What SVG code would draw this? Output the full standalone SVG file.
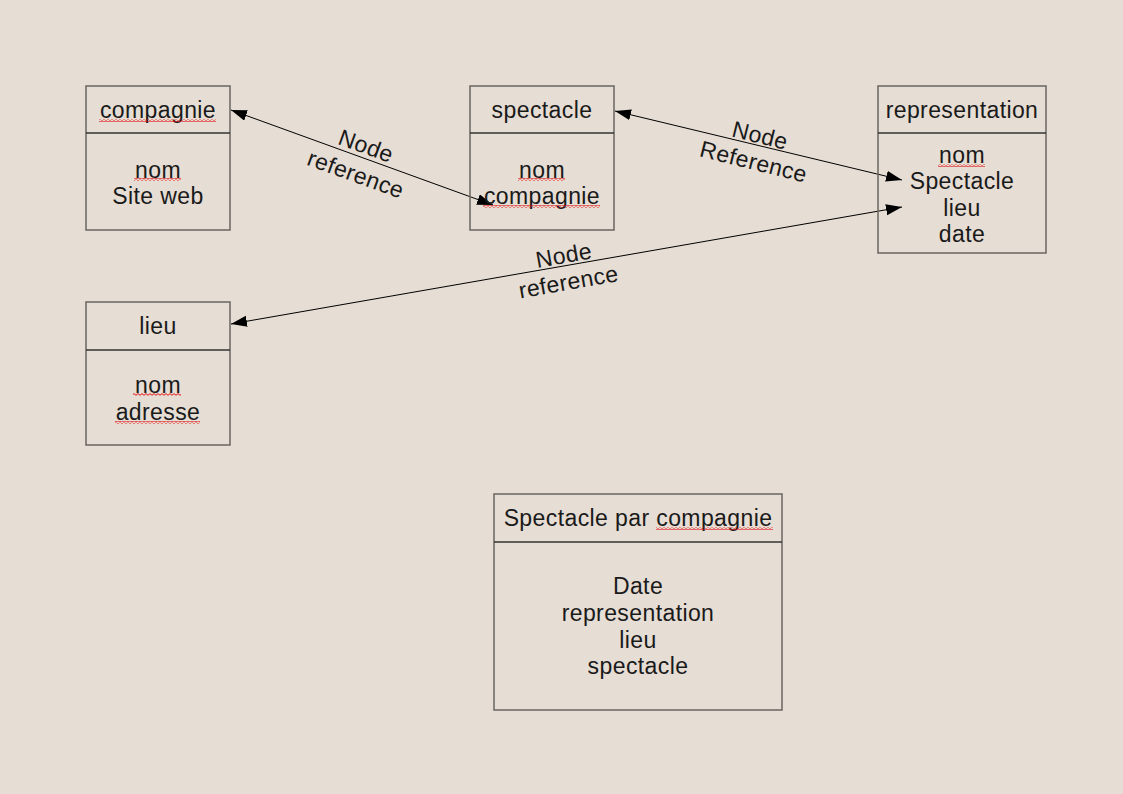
<svg xmlns="http://www.w3.org/2000/svg" width="1123" height="794" viewBox="0 0 1123 794">
<style>
.box{fill:none;stroke:#6b6560;stroke-width:1.5}
.div{stroke:#333;stroke-width:1.5}
.t{font-family:"Liberation Sans",Arial,sans-serif;font-size:23px;letter-spacing:0.4px;fill:#1a1a1a;text-anchor:middle}
.c{stroke:#000;stroke-width:1;fill:none;marker-start:url(#ah);marker-end:url(#ah)}
.sp{fill:url(#wavy)}
</style>
<defs>
<marker id="ah" markerUnits="userSpaceOnUse" markerWidth="18" markerHeight="13" refX="16" refY="5.5" orient="auto-start-reverse">
<path d="M0,0 L16,5.5 L0,11 z" fill="#000"/>
</marker>
<pattern id="wavy" patternUnits="userSpaceOnUse" width="4" height="3">
<path d="M0,2.3 L2,0.6 L4,2.3" fill="none" stroke="#e01010" stroke-width="1"/>
</pattern>
</defs>
<rect width="1123" height="794" fill="#e6ddd4"/>
<g id="connectors">
<line class="c" x1="231" y1="110" x2="493" y2="205"/>
<line class="c" x1="615" y1="111" x2="902" y2="180"/>
<line class="c" x1="902" y1="207" x2="231" y2="324"/>
<g transform="translate(361,160) rotate(20)"><text class="t" y="-7">Node</text><text class="t" y="23">reference</text></g>
<g transform="translate(757,148) rotate(14)"><text class="t" y="-5">Node</text><text class="t" y="22">Reference</text></g>
<g transform="translate(566,268) rotate(-10)"><text class="t" y="-5">Node</text><text class="t" y="22">reference</text></g>
</g>
<g id="compagnie">
<rect class="box" x="86" y="86" width="144" height="144"/>
<line class="div" x1="86" y1="133" x2="230" y2="133"/>
<text class="t" x="158" y="118">compagnie</text>
<text class="t" x="158" y="178">nom</text>
<text class="t" x="158" y="204">Site web</text>
<rect class="sp" x="99" y="119" width="117" height="3"/>
<rect class="sp" x="134" y="178" width="47" height="3"/>
</g>
<g id="spectacle">
<rect class="box" x="470" y="86" width="144" height="144"/>
<line class="div" x1="470" y1="133" x2="614" y2="133"/>
<text class="t" x="542" y="118">spectacle</text>
<text class="t" x="542" y="178">nom</text>
<text class="t" x="542" y="204">compagnie</text>
<rect class="sp" x="518" y="178" width="47" height="3"/>
<rect class="sp" x="483" y="205" width="117" height="3"/>
</g>
<g id="representation">
<rect class="box" x="878" y="86" width="168" height="167"/>
<line class="div" x1="878" y1="133" x2="1046" y2="133"/>
<text class="t" x="962" y="118">representation</text>
<text class="t" x="962" y="163">nom</text>
<text class="t" x="962" y="189">Spectacle</text>
<text class="t" x="962" y="216">lieu</text>
<text class="t" x="962" y="242">date</text>
<rect class="sp" x="938" y="164" width="47" height="3"/>
</g>
<g id="lieu">
<rect class="box" x="86" y="302" width="144" height="143"/>
<line class="div" x1="86" y1="350" x2="230" y2="350"/>
<text class="t" x="158" y="334">lieu</text>
<text class="t" x="158" y="393">nom</text>
<text class="t" x="158" y="420">adresse</text>
<rect class="sp" x="133" y="393" width="48" height="3"/>
<rect class="sp" x="115" y="421" width="85" height="3"/>
</g>
<g id="spectacle-par-compagnie">
<rect class="box" x="494" y="494" width="288" height="216"/>
<line class="div" x1="494" y1="542" x2="782" y2="542"/>
<text class="t" x="638" y="526">Spectacle par compagnie</text>
<text class="t" x="638" y="594">Date</text>
<text class="t" x="638" y="621">representation</text>
<text class="t" x="638" y="648">lieu</text>
<text class="t" x="638" y="674">spectacle</text>
<rect class="sp" x="656" y="527" width="117" height="3"/>
</g>
</svg>
